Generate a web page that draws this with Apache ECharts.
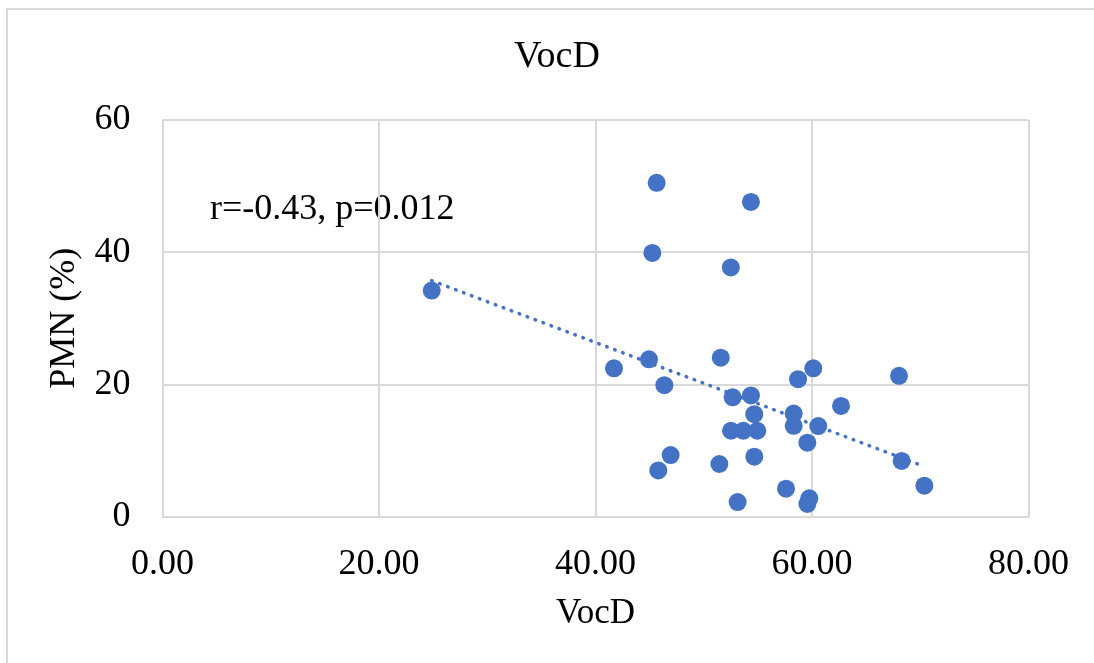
<!DOCTYPE html>
<html>
<head>
<meta charset="utf-8">
<title>VocD</title>
<script src="https://cdn.jsdelivr.net/npm/echarts@6/dist/echarts.min.js"></script>
<style>
  html, body { margin: 0; padding: 0; background: #fff; }
  #main { width: 1094px; height: 663px; }
</style>
</head>
<body>
<div id="main"></div>
<script>
// values
const vocd = [24.87, 45.65, 54.36, 45.25, 52.5, 44.94, 41.71, 51.57, 46.36, 60.12, 58.71,
  52.67, 54.36, 54.67, 58.31, 58.31, 60.58, 62.68, 52.52, 53.65, 54.95, 59.57, 46.94,
  45.8, 51.44, 54.67, 57.6, 53.13, 59.75, 59.57, 68.04, 68.28, 70.38]
const pmn = [34.2, 50.5, 47.6, 39.9, 37.7, 23.8, 22.45, 24.05, 19.9, 22.45, 20.8,
  18.05, 18.35, 15.5, 15.6, 13.75, 13.7, 16.75, 13.0, 13.0, 13.0, 11.2, 9.33,
  7.0, 7.97, 9.08, 4.24, 2.22, 2.78, 1.92, 21.3, 8.43, 4.69]

// trend line ends (Excel linear trendline)
const trendX = [24.87, 70.38]
const trendY = [35.7, 7.6]

const xTicks = [0, 20, 40, 60, 80]
const yTicks = [0, 20, 40, 60]

const serif = "'Liberation Serif', 'Times New Roman', serif"
const gridColor = '#d9d9d9'
const blue = '#4472C4'

const points = vocd.map((v, i) => [v, pmn[i]])
const trend = trendX.map((v, i) => [v, trendY[i]])

const myChart = echarts.init(document.getElementById('main'))

myChart.setOption({
  backgroundColor: '#fff',
  animation: false,
  title: {
    text: 'VocD',
    left: 552,
    top: 33,
    textAlign: 'center',
    textStyle: {
      fontFamily: serif,
      fontSize: 38,
      fontWeight: 'normal',
      color: '#000'
    }
  },
  grid: {
    left: 162.5,
    right: 65.5,
    top: 120,
    bottom: 146.3
  },
  xAxis: {
    type: 'value',
    min: xTicks[0],
    max: xTicks[xTicks.length - 1],
    interval: 20,
    name: 'VocD',
    nameLocation: 'middle',
    nameGap: 80,
    nameTextStyle: { fontFamily: serif, fontSize: 35, color: '#000' },
    axisLine: { show: true, lineStyle: { color: gridColor, width: 2 } },
    axisTick: { show: false },
    splitLine: { show: true, lineStyle: { color: gridColor, width: 2 } },
    axisLabel: {
      margin: 30,
      fontFamily: serif,
      fontSize: 36,
      color: '#000',
      formatter: v => v.toFixed(2)
    }
  },
  yAxis: {
    type: 'value',
    min: yTicks[0],
    max: yTicks[yTicks.length - 1],
    interval: 20,
    name: 'PMN (%)',
    nameLocation: 'middle',
    nameGap: 80,
    nameRotate: 90,
    nameTextStyle: { fontFamily: serif, fontSize: 36, color: '#000' },
    axisLine: { show: true, lineStyle: { color: gridColor, width: 2 } },
    axisTick: { show: false },
    splitLine: { show: true, lineStyle: { color: gridColor, width: 2 } },
    axisLabel: {
      margin: 32,
      fontFamily: serif,
      fontSize: 36,
      color: '#000'
    }
  },
  graphic: [
    {
      type: 'rect',
      shape: { x: 7, y: 9, width: 1200, height: 1000 },
      style: { fill: 'none', stroke: gridColor, lineWidth: 2 },
      silent: true
    },
    {
      type: 'text',
      x: 210,
      y: 210,
      style: {
        text: 'r=-0.43, p=0.012',
        font: '36px ' + serif,
        fill: '#000',
        textAlign: 'left',
        textVerticalAlign: 'middle'
      }
    }
  ],
  series: [
    {
      name: 'PMN',
      type: 'scatter',
      symbolSize: 18,
      itemStyle: { color: blue, opacity: 1 },
      data: points,
      z: 2
    },
    {
      name: 'trend',
      type: 'line',
      showSymbol: false,
      symbol: 'none',
      lineStyle: { color: blue, width: 3.5, type: [0.5, 8], cap: 'round' },
      data: trend,
      z: 3
    }
  ]
})
</script>
</body>
</html>
